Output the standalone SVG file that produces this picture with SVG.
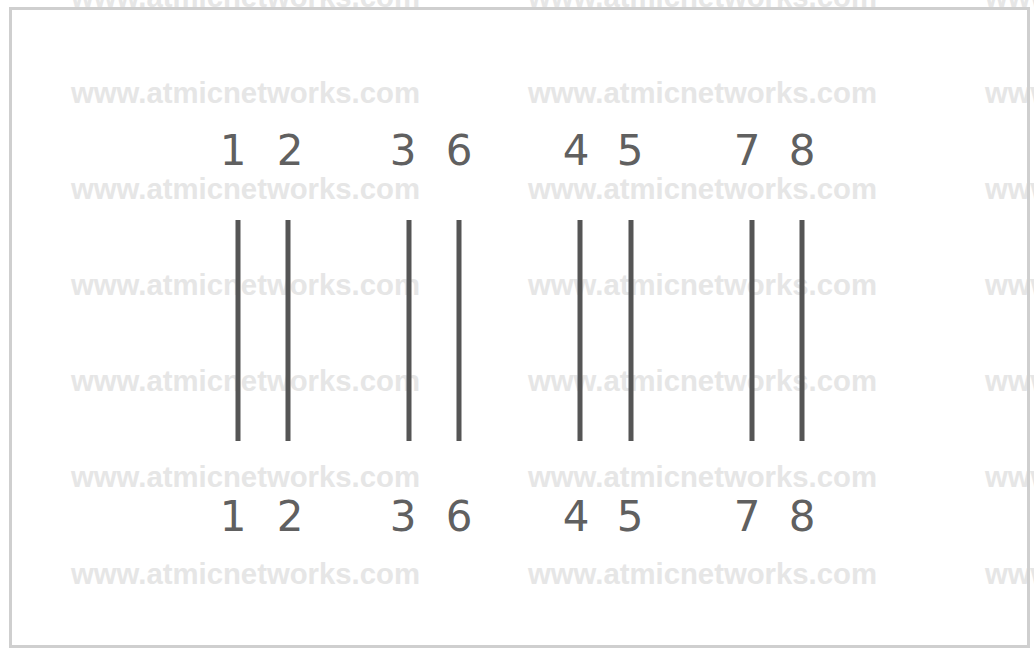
<svg xmlns="http://www.w3.org/2000/svg" width="1034" height="648" viewBox="0 0 1034 648">
<style>
.wm{font-family:"Liberation Sans",Arial,sans-serif;font-weight:bold;font-size:29.3px;fill:#e6e6e6}
.num{font-family:"DejaVu Sans",Verdana,sans-serif;font-size:42px;fill:#606060;text-anchor:middle}
.wire{stroke:#555;stroke-width:5;stroke-linecap:butt}
</style>
<rect x="0" y="0" width="1034" height="648" fill="#fff"/>
<g id="watermarks">
<text class="wm" x="71" y="7">www.atmicnetworks.com</text>
<text class="wm" x="528" y="7">www.atmicnetworks.com</text>
<text class="wm" x="985" y="7">www.atmicnetworks.com</text>
<text class="wm" x="71" y="103">www.atmicnetworks.com</text>
<text class="wm" x="528" y="103">www.atmicnetworks.com</text>
<text class="wm" x="985" y="103">www.atmicnetworks.com</text>
<text class="wm" x="71" y="199">www.atmicnetworks.com</text>
<text class="wm" x="528" y="199">www.atmicnetworks.com</text>
<text class="wm" x="985" y="199">www.atmicnetworks.com</text>
<text class="wm" x="71" y="295">www.atmicnetworks.com</text>
<text class="wm" x="528" y="295">www.atmicnetworks.com</text>
<text class="wm" x="985" y="295">www.atmicnetworks.com</text>
<text class="wm" x="71" y="391">www.atmicnetworks.com</text>
<text class="wm" x="528" y="391">www.atmicnetworks.com</text>
<text class="wm" x="985" y="391">www.atmicnetworks.com</text>
<text class="wm" x="71" y="487">www.atmicnetworks.com</text>
<text class="wm" x="528" y="487">www.atmicnetworks.com</text>
<text class="wm" x="985" y="487">www.atmicnetworks.com</text>
<text class="wm" x="71" y="584">www.atmicnetworks.com</text>
<text class="wm" x="528" y="584">www.atmicnetworks.com</text>
<text class="wm" x="985" y="584">www.atmicnetworks.com</text>
</g>
<rect id="frame" x="10.5" y="8.5" width="1018" height="638" fill="none" stroke="#cfcfcf" stroke-width="3"/>
<g id="top-labels">
<text class="num" x="233" y="165">1</text>
<text class="num" x="290" y="165">2</text>
<text class="num" x="403" y="165">3</text>
<text class="num" x="459" y="165">6</text>
<text class="num" x="576" y="165">4</text>
<text class="num" x="630" y="165">5</text>
<text class="num" x="747" y="165">7</text>
<text class="num" x="802" y="165">8</text>
</g>
<g id="connectors">
<line class="wire" x1="238" y1="220" x2="238" y2="441"/>
<line class="wire" x1="288" y1="220" x2="288" y2="441"/>
<line class="wire" x1="409" y1="220" x2="409" y2="441"/>
<line class="wire" x1="459" y1="220" x2="459" y2="441"/>
<line class="wire" x1="580" y1="220" x2="580" y2="441"/>
<line class="wire" x1="631" y1="220" x2="631" y2="441"/>
<line class="wire" x1="752" y1="220" x2="752" y2="441"/>
<line class="wire" x1="802" y1="220" x2="802" y2="441"/>
</g>
<g id="bottom-labels">
<text class="num" x="233" y="531">1</text>
<text class="num" x="290" y="531">2</text>
<text class="num" x="403" y="531">3</text>
<text class="num" x="459" y="531">6</text>
<text class="num" x="576" y="531">4</text>
<text class="num" x="630" y="531">5</text>
<text class="num" x="747" y="531">7</text>
<text class="num" x="802" y="531">8</text>
</g>
</svg>
